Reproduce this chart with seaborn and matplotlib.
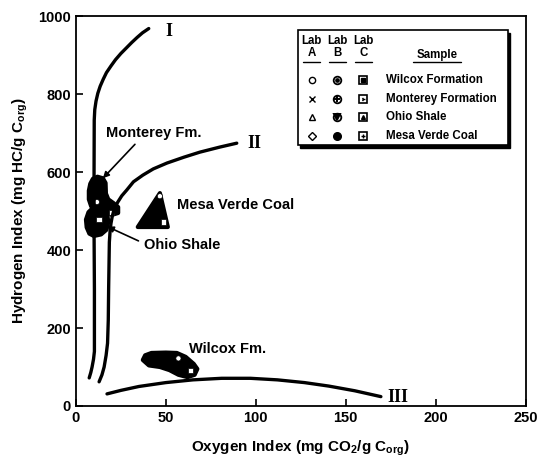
import numpy as np
import pandas as pd
import seaborn as sns
import matplotlib.pyplot as plt
from matplotlib.patches import Rectangle

# kerogen type boundary curves (OI, HI)
curve_I_x = [7.4, 8.3, 9.0, 9.8, 10.3, 10.3, 10.1, 10.1, 10.2, 10.5, 11.2, 12.2, 13.5, 15.2, 17, 19.5,
             22, 25, 28, 31, 34, 37, 40.5]
curve_I_y = [72, 86, 100, 120, 140, 300, 450, 600, 733, 760, 782, 802, 820, 838, 855, 872,
             888, 904, 918, 932, 945, 957, 968]
curve_II_x = [12.9, 14.5, 15.7, 16.8, 17.6, 18.0, 18.2, 18.6, 19.0, 19.5, 20.2, 21, 22, 23.3, 25.5,
              28.3, 32, 37.2, 43, 50.6, 60, 68.9, 80, 89.4]
curve_II_y = [62, 80, 100, 130, 161, 220, 300, 420, 448, 468, 486, 500, 512, 523, 539,
              554, 575, 592, 608, 623, 638, 651, 664, 674]
curve_III_x = [17.3, 25, 35, 50, 65, 81, 97, 112, 127, 140.6, 155, 169.5]
curve_III_y = [31, 40, 50, 60, 67, 71, 71, 67, 60, 51, 39, 24]

# outlines of the sample clusters
monterey_x = [8.0, 9.5, 12, 15, 16.5, 16.7, 18, 21, 23.5, 23.5, 20, 16, 12, 8.5, 7.2, 7.2]
monterey_y = [570, 583, 588, 584, 572, 545, 530, 520, 510, 495, 490, 497, 506, 512, 530, 552]
ohio_x = [7.0, 9, 12, 15, 17.5, 18, 17, 14, 10, 7.5, 6, 5.6]
ohio_y = [497, 506, 508, 503, 490, 472, 452, 440, 436, 442, 458, 478]
mesa_x = [46.7, 34.4, 51.1]
mesa_y = [546, 459, 459]
wilcox_x = [37.2, 38.5, 42, 50, 56.1, 61, 65.5, 67.5, 66, 62, 57, 52, 46.7, 40.6]
wilcox_y = [118, 130, 136, 137, 136, 126, 108, 95, 80, 74, 80, 92, 100, 104]

# individual points visible inside the clusters
pt_x = [57, 63.5, 46.7, 48.9, 20.0, 12.8, 11.7]
pt_y = [122, 92, 538, 472, 497, 479, 523]
pt_lab = ["A", "C", "A", "C", "C", "C", "A"]

samples = ["Wilcox Formation", "Monterey Formation", "Ohio Shale", "Mesa Verde Coal"]
labs = ["A", "B", "C"]

sns.set_theme(style="ticks")
plt.rcParams["font.family"] = ["Liberation Sans", "DejaVu Sans"]
plt.rcParams["font.weight"] = "bold"
plt.rcParams["text.color"] = "black"
plt.rcParams["axes.labelcolor"] = "black"
plt.rcParams["mathtext.fontset"] = "custom"
plt.rcParams["mathtext.rm"] = "Liberation Sans:bold"
plt.rcParams["mathtext.it"] = "Liberation Sans:bold"
plt.rcParams["mathtext.bf"] = "Liberation Sans:bold"

fig = plt.figure(figsize=(5.42, 4.59), dpi=100)
ax = fig.add_axes([0.140, 0.1155, 0.830, 0.8495])

for cx, cy in [(curve_I_x, curve_I_y), (curve_II_x, curve_II_y), (curve_III_x, curve_III_y)]:
    sns.lineplot(x=cx, y=cy, sort=False, estimator=None, color="black",
                 lw=2.4, ax=ax, solid_capstyle="round", solid_joinstyle="round")

for bx, by in [(monterey_x, monterey_y), (ohio_x, ohio_y), (mesa_x, mesa_y), (wilcox_x, wilcox_y)]:
    ax.fill(bx, by, facecolor="black", edgecolor="black", lw=3, joinstyle="round")

pts = pd.DataFrame({"x": pt_x, "y": pt_y, "lab": pt_lab})
sns.scatterplot(data=pts, x="x", y="y", style="lab", markers={"A": "o", "C": "s"},
                color="white", edgecolor="black", linewidth=0.5, s=14, legend=False, ax=ax)

serif = dict(family="Liberation Serif", fontsize=13, fontweight="bold", ha="center", va="center")
ax.text(51.7, 961, "I", **serif)
ax.text(99.4, 672, "II", **serif)
ax.text(179, 23, "III", **serif)

lbl = dict(fontsize=10.5, fontweight="bold", color="black")
ax.annotate("Monterey Fm.", xy=(15.0, 584), xytext=(16.5, 700), va="center", ha="left",
            arrowprops=dict(arrowstyle="-|>", color="black", lw=1.2, mutation_scale=9,
                            relpos=(0.35, 0.0), shrinkA=1, shrinkB=0), **lbl)
ax.annotate("Ohio Shale", xy=(17.5, 460), xytext=(38, 413), va="center", ha="left",
            arrowprops=dict(arrowstyle="-|>", color="black", lw=1.2, mutation_scale=9,
                            relpos=(0.0, 0.6), shrinkA=2, shrinkB=0), **lbl)
ax.text(56, 515, "Mesa Verde Coal", va="center", ha="left", **lbl)
ax.text(63, 146, "Wilcox Fm.", va="center", ha="left", **lbl)

# legend box with drop shadow
T = ax.transAxes
ax.add_patch(Rectangle((0.499, 0.662), 0.467, 0.295, transform=T, facecolor="black",
                       edgecolor="black", zorder=5))
ax.add_patch(Rectangle((0.493, 0.669), 0.467, 0.295, transform=T, facecolor="white",
                       edgecolor="black", lw=1.2, zorder=6))
col_x = [0.524, 0.581, 0.639]
fs = 8.3
for lab, x in zip(labs, col_x):
    ax.text(x, 0.937, "Lab", transform=T, ha="center", va="center", fontsize=fs, zorder=7)
    ax.text(x, 0.906, lab, transform=T, ha="center", va="center", fontsize=fs, zorder=7)
    ax.plot([x - 0.019, x + 0.019], [0.882, 0.882], transform=T, color="black", lw=1, zorder=7)
ax.text(0.802, 0.899, "Sample", transform=T, ha="center", va="center", fontsize=fs, zorder=7)
ax.plot([0.749, 0.855], [0.882, 0.882], transform=T, color="black", lw=1, zorder=7)

row_y = [0.836, 0.788, 0.741, 0.692]
a_marks = ["o", "x", "^", "D"]
b_inner = [".", "+", "v", None]
c_inner = ["s", "4", "^", "+"]
for i, (name, y) in enumerate(zip(samples, row_y)):
    ax.text(0.689, y, name, transform=T, ha="left", va="center", fontsize=fs, zorder=7)
    ma = a_marks[i]
    ax.plot(col_x[0], y, marker=ma, ms=4.5 if ma != "D" else 3.8, mfc="white", mec="black",
            mew=1, transform=T, zorder=7)
    if b_inner[i] is None:
        ax.plot(col_x[1], y, marker="o", ms=5.5, mfc="black", mec="black", transform=T, zorder=7)
    else:
        ax.plot(col_x[1], y, marker="o", ms=5.5, mfc="white", mec="black", mew=1.3,
                transform=T, zorder=7)
        ax.plot(col_x[1], y, marker=b_inner[i], ms=4, mfc="black", mec="black", mew=1.4,
                transform=T, zorder=8)
    ax.plot(col_x[2], y, marker="s", ms=5.5, mfc="white", mec="black", mew=1.2,
            transform=T, zorder=7)
    ax.plot(col_x[2], y, marker=c_inner[i], ms=2.8, mfc="black", mec="black", mew=1,
            transform=T, zorder=8)

ax.set_xlim(0, 250)
ax.set_ylim(0, 1000)
ax.set_xticks([0, 50, 100, 150, 200, 250])
ax.set_yticks([0, 200, 400, 600, 800, 1000])
ax.tick_params(direction="in", length=5, width=1.2, labelsize=10.5, colors="black")
for lab_t in ax.get_xticklabels() + ax.get_yticklabels():
    lab_t.set_fontweight("bold")
for s in ax.spines.values():
    s.set_linewidth(1.3)
    s.set_color("black")
ax.set_xlabel(r"Oxygen Index (mg CO$_2$/g C$_{org}$)", fontsize=11, fontweight="bold", labelpad=10)
ax.set_ylabel(r"Hydrogen Index (mg HC/g C$_{org}$)", fontsize=11, fontweight="bold", labelpad=6)

fig.savefig("out.png", dpi=100)
